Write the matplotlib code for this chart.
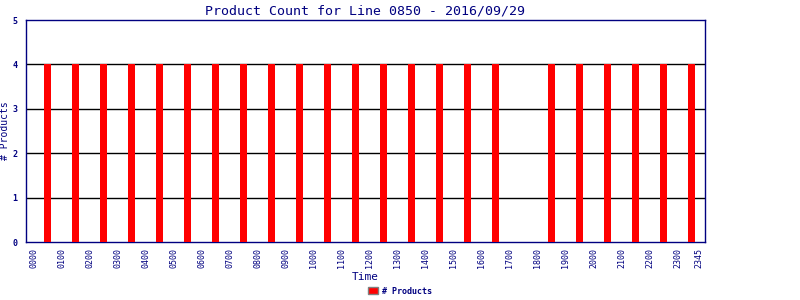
import numpy as np
import matplotlib
matplotlib.use("Agg")
import matplotlib.pyplot as plt

# data
hours = list(range(24))
counts = [4, 4, 4, 4, 4, 4, 4, 4, 4, 4, 4, 4, 4, 4, 4, 4, 4, 0, 4, 4, 4, 4, 4, 4]
tick_labels = ["%02d00" % h for h in range(24)] + ["2345"]
tick_minutes = [h * 60 for h in range(24)] + [23 * 60 + 45]

navy = "#000080"
plt.rcParams['font.family'] = ['DejaVu Sans Mono']

fig = plt.figure(figsize=(8, 3), dpi=100)
ax = fig.add_axes([0.0325, 0.1933, 0.8487, 0.74])

bar_x = [h * 60 + 30 for h in hours]
ax.bar(bar_x, counts, width=15, color="red", zorder=3, label="# Products")

ax.set_xlim(-17, 1438)
ax.set_ylim(0, 5)
ax.set_yticks([0, 1, 2, 3, 4, 5])
ax.set_yticklabels(["0", "1", "2", "3", "4", "5"], fontsize=6, fontweight="bold", color=navy)
ax.set_xticks(tick_minutes)
ax.set_xticklabels(tick_labels, rotation=90, fontsize=6, color=navy)
ax.tick_params(axis="y", length=0, pad=6)
ax.tick_params(axis="x", length=0, pad=4)
for y in [1, 2, 3, 4]:
    ax.axhline(y, color="black", lw=1, zorder=1)
for s in ax.spines.values():
    s.set_color(navy)
    s.set_linewidth(1)

ax.set_title("Product Count for Line 0850 - 2016/09/29", fontsize=9.5, color=navy, pad=4)
ax.set_xlabel("Time", fontsize=8, color=navy, labelpad=3)
ax.set_ylabel("# Products", fontsize=7, color=navy, labelpad=2)

leg = fig.legend(loc="lower center", bbox_to_anchor=(0.5, -0.01), frameon=False,
                 fontsize=6, handlelength=1.2, handleheight=0.8, handletextpad=0.4)
for t in leg.get_texts():
    t.set_color(navy)
    t.set_fontweight("bold")
for p in leg.get_patches():
    p.set_edgecolor("gray")

fig.savefig("out.png", dpi=100)
